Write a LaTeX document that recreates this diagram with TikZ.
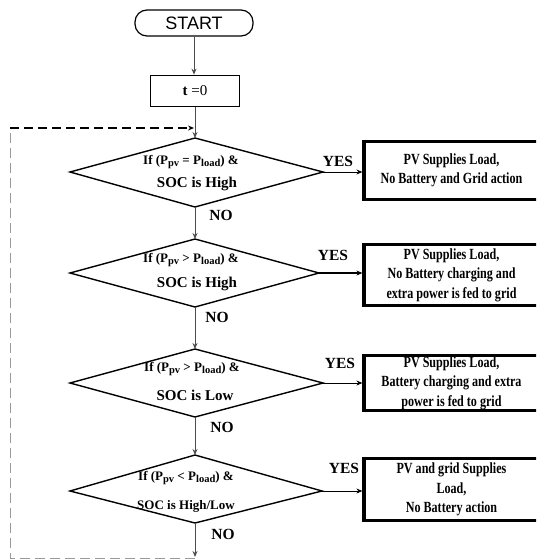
\documentclass[tikz,border=0pt]{standalone}
\usepackage{fontspec}
\setmainfont{Liberation Serif}
\setsansfont{Liberation Sans}
\newfontfamily\condfont[FakeStretch=0.78]{Liberation Serif}
\usetikzlibrary{arrows.meta}
\newcommand\lowsub[1]{\raisebox{-0.35ex}{\fontsize{10.5}{10.5}\selectfont #1}}
\begin{document}
\begin{tikzpicture}[x=1pt,y=-1pt,
  tipx/.style={-{Stealth[length=6pt,width=5pt]}},
  flow/.style={draw=black!70,line width=0.9pt,tipx},
  yesarrow/.style={draw=black,line width=0.9pt,tipx},
  diam/.style={draw=black,line width=1.4pt,line join=miter},
  outbox/.style={draw=black,line width=3.2pt,minimum width=175pt,inner sep=0pt,align=center,
    font=\condfont\bfseries\fontsize{15.5}{19.5}\selectfont},
  lineone/.style={inner sep=0pt,font=\bfseries\fontsize{13}{15}\selectfont},
  linetwo/.style={inner sep=0pt,font=\bfseries\fontsize{15}{18}\selectfont},
  lbl/.style={inner sep=0pt,font=\bfseries\fontsize{15.5}{18}\selectfont},
  loopgray/.style={draw=black!40,line width=1pt,dash pattern=on 10pt off 5pt},
  loopblack/.style={draw=black,line width=1.1pt,dash pattern=on 9pt off 5pt,tipx}
]
\clip (0,0) rectangle (536,560);
\fill[white] (0,0) rectangle (536,560);

% start and init
\node[draw,line width=1.2pt,rounded corners=12pt,minimum width=118pt,minimum height=26pt,
  inner sep=0pt,font=\sffamily\fontsize{18}{18}\selectfont] (start) at (194,23) {START};
\node[draw,line width=1.7pt,minimum width=89pt,minimum height=31pt,inner sep=0pt,
  font=\fontsize{15}{15}\selectfont] (t0) at (195,91) {\textbf{t} =0};

% diamond vertices
\coordinate (d1t) at (195,138); \coordinate (d1l) at (70,172);
\coordinate (d1r) at (323,172); \coordinate (d1b) at (195,207);
\coordinate (d2t) at (195,239); \coordinate (d2l) at (70,273);
\coordinate (d2r) at (319,273); \coordinate (d2b) at (195,307);
\coordinate (d3t) at (195,349); \coordinate (d3l) at (70,383);
\coordinate (d3r) at (323,383); \coordinate (d3b) at (195,417);
\coordinate (d4t) at (195,455); \coordinate (d4l) at (70,491);
\coordinate (d4r) at (322,491); \coordinate (d4b) at (195,523);

\draw[diam] (d1t) -- (d1r) -- (d1b) -- (d1l) -- cycle;
\draw[diam] (d2t) -- (d2r) -- (d2b) -- (d2l) -- cycle;
\draw[diam] (d3t) -- (d3r) -- (d3b) -- (d3l) -- cycle;
\draw[diam] (d4t) -- (d4r) -- (d4b) -- (d4l) -- cycle;

% diamond texts
\node[lineone] (q1a) at (191,162) {If (P\lowsub{pv} = P\lowsub{load}) \&};
\node[linetwo] (q1b) at (197,184) {SOC is High};
\node[lineone] (q2a) at (191,260) {If (P\lowsub{pv} > P\lowsub{load}) \&};
\node[linetwo] (q2b) at (197,284) {SOC is High};
\node[lineone] (q3a) at (192,369) {If (P\lowsub{pv} > P\lowsub{load}) \&};
\node[linetwo] (q3b) at (195,395) {SOC is Low};
\node[lineone] (q4a) at (186,478) {If (P\lowsub{pv} < P\lowsub{load}) \&};
\node[lineone] (q4b) at (186,506) {SOC is High/Low};

% action boxes
\node[outbox,minimum height=58pt] (b1) at (451.5,170.5)
  {PV Supplies Load,\\No Battery and Grid action};
\node[outbox,minimum height=61pt] (b2) at (451.5,275)
  {PV Supplies Load,\\No Battery charging and\\extra power is fed to grid};
\node[outbox,minimum height=55pt] (b3) at (451.5,383)
  {PV Supplies Load,\\Battery charging and extra\\power is fed to grid};
\node[outbox,minimum height=62pt] (b4) at (451.5,489.5)
  {PV and grid Supplies\\Load,\\No Battery action};

% YES arrows and labels
\draw[yesarrow] (d1r) -- (d1r -| b1.west);
\draw[yesarrow,line width=2.6pt] (d2r) -- (d2r -| b2.west);
\draw[yesarrow] (d3r) -- (d3r -| b3.west);
\draw[yesarrow] (d4r) -- (d4r -| b4.west);
\node[lbl] (y1) at (338,161) {YES};
\node[lbl] (y2) at (333,255) {YES};
\node[lbl] (y3) at (340,363) {YES};
\node[lbl] (y4) at (344,468) {YES};

% vertical flow
\draw[flow] (start.south) -- (start.south |- t0.north);
\draw[flow] (t0.south) -- (d1t);
\draw[flow] (d1b) -- (d2t);
\draw[flow] (d2b) -- (d3t);
\draw[flow] (d3b) -- (d4t);
\coordinate (endp) at (195,557);
\draw[flow] (d4b) -- (endp);
\node[lbl] (n1) at (221,215) {NO};
\node[lbl] (n2) at (217,317) {NO};
\node[lbl] (n3) at (222,427) {NO};
\node[lbl] (n4) at (223,534) {NO};

% dashed loop back
\coordinate (ll) at (10,558);
\coordinate (ul) at (10,128);
\coordinate (join) at (194,128);
\draw[loopgray] (endp |- ll) -- (ll) -- (ul);
\draw[loopblack] (ul) -- (join);
\end{tikzpicture}
\end{document}
